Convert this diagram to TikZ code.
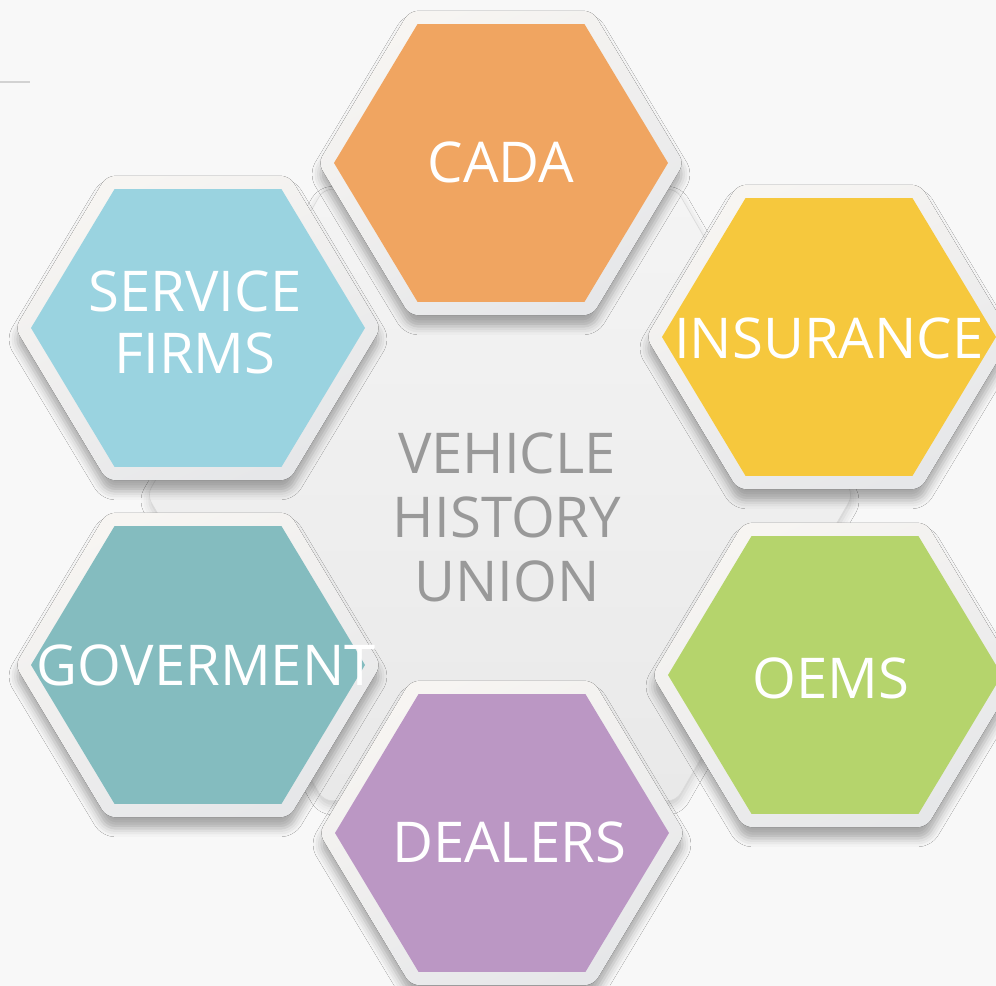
\documentclass[tikz,border=0pt]{standalone}
\usepackage{fontspec}
\setmainfont{Open Sans}
\usetikzlibrary{shadows.blur}

\definecolor{pagebg}{HTML}{F8F8F8}
\definecolor{rulegray}{HTML}{D2D2D2}
\definecolor{rimtop}{HTML}{F7F5F2}
\definecolor{rimbot}{HTML}{E6E7E9}
\definecolor{hubtop}{HTML}{F4F4F4}
\definecolor{hubbot}{HTML}{E9E9E9}
\definecolor{hubline}{HTML}{D9D9D9}
\definecolor{hubtext}{HTML}{999999}
\definecolor{cadacol}{HTML}{F0A561}
\definecolor{inscol}{HTML}{F6C83D}
\definecolor{oemcol}{HTML}{B5D46C}
\definecolor{dealcol}{HTML}{BB97C4}
\definecolor{govcol}{HTML}{84BCBF}
\definecolor{servcol}{HTML}{9AD3E0}

\tikzset{
  hub/.style={top color=hubtop, bottom color=hubbot, draw=hubline, line width=0.4pt,
    rounded corners=6pt,
    blur shadow={shadow xshift=0pt, shadow yshift=-4pt, shadow blur radius=6pt, shadow opacity=18}},
  rim/.style={top color=rimtop, bottom color=rimbot, shading angle=25, rounded corners=6pt,
    blur shadow={shadow xshift=0pt, shadow yshift=-8pt, shadow blur radius=6pt, shadow opacity=32}},
  hexlabel/.style={text=white, font=\fontsize{40}{44}\selectfont, align=center, inner sep=0pt},
  hublabel/.style={text=hubtext, font=\fontsize{40}{45.5}\selectfont, align=center, inner sep=0pt},
}

\begin{document}
\begin{tikzpicture}[x=0.025cm,y=0.025cm]
    \fill[pagebg] (0,0) rectangle (996,986);
    \useasboundingbox (0,0) rectangle (996,986);
    \draw[rulegray, line width=1.2pt] (0,904) -- (30,904);
    % big hexagon in the middle
    \pgfmathsetmacro{\hubR}{353}
    \draw[hub, shift={(500,491)}] (0:\hubR) -- (60:\hubR) -- (120:\hubR) -- (180:\hubR) -- (240:\hubR) -- (300:\hubR) -- cycle;
    % the six tiles
    \foreach \cx/\cy/\col in {198/658/servcol, 198/321/govcol, 502/153/dealcol, 835/311/oemcol, 829/649/inscol, 501/823/cadacol}{
        \pgfmathsetmacro{\rimR}{183}
        \pgfmathsetmacro{\tileR}{167}
        \fill[rim, shift={(\cx,\cy)}, yscale=0.96] (0:\rimR) -- (60:\rimR) -- (120:\rimR) -- (180:\rimR) -- (240:\rimR) -- (300:\rimR) -- cycle;
        \fill[\col, shift={(\cx,\cy)}, yscale=0.96] (0:\tileR) -- (60:\tileR) -- (120:\tileR) -- (180:\tileR) -- (240:\tileR) -- (300:\tileR) -- cycle;
    }
    \node[hublabel] (hub) at (507,469) {VEHICLE\\HISTORY\\UNION};
    \node[hexlabel] (cada) at (501,824) {CADA};
    \node[hexlabel] (service) at (195,664) {SERVICE\\FIRMS};
    \node[hexlabel] (insurance) at (829,648) {INSURANCE};
    \node[hexlabel] (oems) at (831,308) {OEMS};
    \node[hexlabel] (dealers) at (509,144) {DEALERS};
    \node[hexlabel] (goverment) at (206,321) {GOVERMENT};
\end{tikzpicture}
\end{document}
